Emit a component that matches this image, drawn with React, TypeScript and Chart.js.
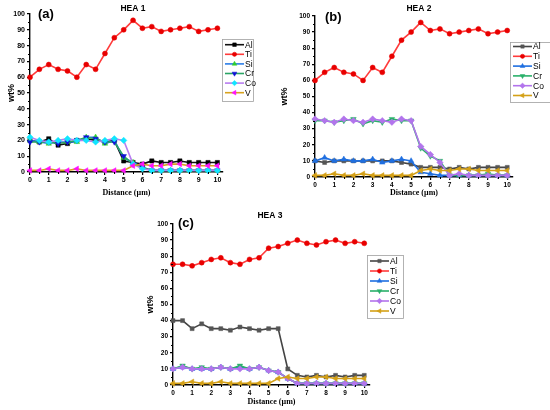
import React, { useRef, useEffect } from 'react';
import { Chart, registerables } from 'chart.js';
import { drawPoint } from 'chart.js/helpers';

Chart.register(...registerables);

// distance along the line scan (µm)
const DISTANCE = [0, 0.5, 1, 1.5, 2, 2.5, 3, 3.5, 4, 4.5, 5, 5.5, 6, 6.5, 7, 7.5, 8, 8.5, 9, 9.5, 10];
const ELEMENTS = ['Al', 'Ti', 'Si', 'Cr', 'Co', 'V'];

// HEA 1 (wt%)
const hea1Al = [20, 19, 21, 17, 18, 20, 21, 20, 19, 20, 7, 6, 5, 7, 6, 6, 7, 6, 6, 6, 6];
const hea1Ti = [60, 65, 68, 65, 64, 60, 68, 65, 75, 85, 90, 96, 91, 92, 89, 90, 91, 92, 89, 90, 91];
const hea1Si = [20, 19, 18, 19, 19, 19, 22, 22, 18, 20, 9, 6, 3, 1, 1, 1, 1, 1, 1, 1, 1];
const hea1Cr = [19, 19, 19, 18, 19, 20, 22, 21, 19, 19, 10, 5, 3, 1, 1, 1, 1, 1, 1, 1, 1];
const hea1Co = [22, 20, 19, 20, 21, 20, 20, 19, 20, 21, 20, 5, 2, 1, 1, 1, 1, 1, 1, 1, 1];
const hea1V = [1, 1, 2, 1, 1, 2, 1, 1, 1, 1, 1, 4, 5, 4, 4, 5, 5, 4, 4, 4, 4];

// HEA 2 (wt%)
const hea2Al = [10, 9, 10, 10, 10, 10, 10, 10, 10, 9, 8, 6, 6, 6, 5, 6, 5, 6, 6, 6, 6];
const hea2Ti = [60, 65, 68, 65, 64, 60, 68, 65, 75, 85, 90, 96, 91, 92, 89, 90, 91, 92, 89, 90, 91];
const hea2Si = [10, 12, 10, 11, 10, 10, 11, 9, 10, 11, 10, 3, 2, 1, 1, 1, 1, 1, 1, 1, 1];
const hea2Cr = [35, 35, 34, 35, 36, 33, 35, 34, 36, 35, 35, 18, 13, 10, 1, 1, 1, 1, 2, 1, 1];
const hea2Co = [36, 35, 34, 36, 35, 34, 36, 35, 34, 36, 35, 19, 14, 9, 1, 2, 1, 1, 1, 1, 1];
const hea2V = [1, 1, 2, 1, 1, 2, 1, 1, 1, 1, 1, 4, 5, 4, 4, 5, 5, 4, 4, 4, 4];

// HEA 3 (wt%)
const hea3Al = [40, 40, 35, 38, 35, 35, 34, 36, 35, 34, 35, 35, 10, 6, 5, 6, 5, 6, 5, 6, 6];
const hea3Ti = [75, 75, 74, 76, 78, 79, 76, 75, 78, 79, 85, 86, 88, 90, 88, 87, 89, 90, 88, 89, 88];
const hea3Si = [10, 11, 10, 10, 10, 11, 10, 11, 10, 11, 9, 8, 4, 1, 1, 1, 1, 1, 1, 1, 1];
const hea3Cr = [10, 12, 10, 11, 10, 11, 10, 12, 10, 11, 9, 8, 4, 1, 1, 1, 1, 1, 1, 1, 1];
const hea3Co = [10, 11, 10, 10, 10, 11, 10, 10, 10, 11, 9, 8, 4, 1, 1, 1, 1, 1, 1, 1, 1];
const hea3V = [1, 1, 2, 1, 1, 2, 1, 1, 1, 1, 1, 4, 5, 4, 4, 5, 5, 4, 4, 4, 4];

const SANS = '"Liberation Sans", Arial, sans-serif';
const SERIF = '"Liberation Serif", "Times New Roman", serif';

interface SeriesStyle {
  line: string;
  marker: string;
  shape: string;
  rotation: number;
  radius: number;
}

// first panel uses mixed line/marker colours, the other two use plain ones
const STYLES_A: SeriesStyle[] = [
  { line: '#111111', marker: '#000000', shape: 'rect', rotation: 0, radius: 3 },
  { line: '#ff3b3b', marker: '#e80000', shape: 'circle', rotation: 0, radius: 2.5 },
  { line: '#2a7de8', marker: '#2fcf2f', shape: 'triangle', rotation: 0, radius: 3.2 },
  { line: '#2aa464', marker: '#1010d8', shape: 'triangle', rotation: 180, radius: 3.2 },
  { line: '#b77cf0', marker: '#10e6ff', shape: 'rectRot', rotation: 0, radius: 3.2 },
  { line: '#d8a21e', marker: '#ff10ff', shape: 'triangle', rotation: -90, radius: 3.2 },
];

const STYLES_B: SeriesStyle[] = [
  { line: '#444444', marker: '#555555', shape: 'rect', rotation: 0, radius: 2.8 },
  { line: '#ff3b3b', marker: '#e80000', shape: 'circle', rotation: 0, radius: 2.5 },
  { line: '#1f6fe0', marker: '#1f6fe0', shape: 'triangle', rotation: 0, radius: 3.2 },
  { line: '#2ab06a', marker: '#2ab06a', shape: 'triangle', rotation: 180, radius: 3.2 },
  { line: '#b274ec', marker: '#b274ec', shape: 'rectRot', rotation: 0, radius: 3.2 },
  { line: '#d4a017', marker: '#d4a017', shape: 'triangle', rotation: -90, radius: 3.2 },
];

interface PanelSpec {
  title: string;
  label: string;
  series: number[][];
  styles: SeriesStyle[];
  box: { left: number; top: number; width: number; height: number };
  padding: { left: number; top: number; right: number; bottom: number };
  yWidth: number;
  xHeight: number;
  tickSize: number;
  labelPos: [number, number];
  titlePos: [number, number];
  legend: { x: number; y: number; w: number; h: number; first: number; step: number };
}

const PANELS: PanelSpec[] = [
  {
    title: 'HEA 1',
    label: '(a)',
    series: [hea1Al, hea1Ti, hea1Si, hea1Cr, hea1Co, hea1V],
    styles: STYLES_A,
    box: { left: 0, top: 0, width: 275, height: 200 },
    padding: { left: 6, top: 14, right: 52, bottom: 2 },
    yWidth: 24,
    xHeight: 26,
    tickSize: 7,
    labelPos: [38, 14],
    titlePos: [133, 9],
    legend: { x: 222, y: 39, w: 31, h: 62, first: 5.7, step: 9.6 },
  },
  {
    title: 'HEA 2',
    label: '(b)',
    series: [hea2Al, hea2Ti, hea2Si, hea2Cr, hea2Co, hea2V],
    styles: STYLES_B,
    box: { left: 275, top: 0, width: 275, height: 200 },
    padding: { left: 4, top: 16, right: 37, bottom: 2 },
    yWidth: 36,
    xHeight: 21,
    tickSize: 6.5,
    labelPos: [50, 17],
    titlePos: [144, 9],
    legend: { x: 235, y: 42, w: 45, h: 60, first: 4.5, step: 9.8 },
  },
  {
    title: 'HEA 3',
    label: '(c)',
    series: [hea3Al, hea3Ti, hea3Si, hea3Cr, hea3Co, hea3V],
    styles: STYLES_B,
    box: { left: 130, top: 205, width: 290, height: 205 },
    padding: { left: 15, top: 19, right: 50, bottom: 3 },
    yWidth: 28,
    xHeight: 22,
    tickSize: 6.5,
    labelPos: [48, 18],
    titlePos: [140, 10.5],
    legend: { x: 237, y: 50, w: 36, h: 63, first: 6, step: 10 },
  },
];

// minor ticks, panel letter, title and the boxed legend
const decorPlugin = {
  id: 'decor',
  afterDraw(chart: any, _args: any, opts: any) {
    const ctx = chart.ctx as CanvasRenderingContext2D;
    const area = chart.chartArea;
    const xs = chart.scales.x;
    const ys = chart.scales.y;
    ctx.save();

    ctx.strokeStyle = '#000';
    ctx.lineWidth = 1;
    ctx.beginPath();
    for (let v = 5; v < 100; v += 10) {
      const py = Math.round(ys.getPixelForValue(v)) + 0.5;
      ctx.moveTo(area.left, py);
      ctx.lineTo(area.left - 2, py);
    }
    for (let v = 0.5; v < 10.3; v += 1) {
      const px = Math.round(xs.getPixelForValue(v)) + 0.5;
      ctx.moveTo(px, area.bottom);
      ctx.lineTo(px, area.bottom + 2);
    }
    ctx.stroke();

    ctx.fillStyle = '#000';
    ctx.textBaseline = 'middle';
    ctx.textAlign = 'left';
    ctx.font = `bold 13px ${SANS}`;
    ctx.fillText(opts.label, opts.labelPos[0], opts.labelPos[1]);
    ctx.textAlign = 'center';
    ctx.font = `bold 8.5px ${SANS}`;
    ctx.fillText(opts.title, opts.titlePos[0], opts.titlePos[1]);

    const lg = opts.legend;
    ctx.strokeStyle = '#a0a0a0';
    ctx.lineWidth = 0.8;
    ctx.strokeRect(lg.x + 0.5, lg.y + 0.5, lg.w, lg.h);
    chart.data.datasets.forEach((ds: any, i: number) => {
      const cy = lg.y + lg.first + i * lg.step;
      ctx.strokeStyle = ds.borderColor;
      ctx.lineWidth = ds.borderWidth;
      ctx.beginPath();
      ctx.moveTo(lg.x + 3, cy);
      ctx.lineTo(lg.x + 22, cy);
      ctx.stroke();
      ctx.fillStyle = ds.pointBackgroundColor;
      ctx.strokeStyle = ds.pointBorderColor;
      ctx.lineWidth = ds.pointBorderWidth;
      drawPoint(ctx, {
        pointStyle: ds.pointStyle,
        rotation: ds.pointRotation,
        radius: ds.pointRadius * 0.85,
        borderWidth: ds.pointBorderWidth,
      } as any, lg.x + 12.5, cy);
      ctx.fillStyle = '#000';
      ctx.textAlign = 'left';
      ctx.font = `8.5px ${SANS}`;
      ctx.fillText(ds.label, lg.x + 23, cy + 0.5);
    });

    ctx.restore();
  },
};

const Panel: React.FC<{ spec: PanelSpec }> = ({ spec }) => {
  const canvasRef = useRef<HTMLCanvasElement>(null);
  const chartRef = useRef<Chart | null>(null);

  useEffect(() => {
    if (!canvasRef.current) return;
    if (chartRef.current) chartRef.current.destroy();

    const tickFont = { family: SANS, size: spec.tickSize, weight: 'bold' as const };

    chartRef.current = new Chart(canvasRef.current, {
      type: 'line',
      data: {
        datasets: ELEMENTS.map((name, i) => {
          const st = spec.styles[i];
          return {
            label: name,
            data: DISTANCE.map((d, j) => ({ x: d, y: spec.series[i][j] })),
            borderColor: st.line,
            borderWidth: 1.6,
            pointStyle: st.shape as any,
            pointRotation: st.rotation,
            pointRadius: st.radius,
            pointBackgroundColor: st.marker,
            pointBorderColor: st.marker,
            pointBorderWidth: 0.5,
            tension: 0,
            clip: false as any,
            order: ELEMENTS.length - i,
          };
        }),
      },
      options: {
        responsive: false,
        maintainAspectRatio: false,
        animation: false,
        layout: { padding: spec.padding, autoPadding: false },
        plugins: {
          legend: { display: false },
          tooltip: { enabled: false },
          decor: {
            label: spec.label,
            title: spec.title,
            labelPos: spec.labelPos,
            titlePos: spec.titlePos,
            legend: spec.legend,
          },
        } as any,
        scales: {
          x: {
            type: 'linear',
            min: 0,
            max: 10.3,
            afterFit: (scale: any) => {
              scale.height = spec.xHeight;
            },
            ticks: { stepSize: 1, includeBounds: false, font: tickFont, color: '#000', padding: 1, maxRotation: 0 },
            grid: { drawOnChartArea: false, drawTicks: true, tickLength: 3, color: '#000', lineWidth: 1.2 },
            border: { display: true, color: '#000', width: 1.4 },
            title: {
              display: true,
              text: 'Distance (µm)',
              color: '#000',
              font: { family: SERIF, size: 8, weight: 'bold' },
              padding: 0,
            },
          },
          y: {
            min: 0,
            max: 100,
            afterFit: (scale: any) => {
              scale.width = spec.yWidth;
            },
            ticks: { stepSize: 10, font: tickFont, color: '#000', padding: 2 },
            grid: { drawOnChartArea: false, drawTicks: true, tickLength: 3, color: '#000', lineWidth: 1.2 },
            border: { display: true, color: '#000', width: 1.4 },
            title: {
              display: true,
              text: 'wt%',
              color: '#000',
              font: { family: SANS, size: 9, weight: 'bold' },
              padding: 0,
            },
          },
        },
      },
      plugins: [decorPlugin],
    });

    return () => {
      if (chartRef.current) {
        chartRef.current.destroy();
        chartRef.current = null;
      }
    };
  }, [spec]);

  return (
    <canvas
      ref={canvasRef}
      width={spec.box.width}
      height={spec.box.height}
      style={{
        position: 'absolute',
        left: spec.box.left,
        top: spec.box.top,
        width: spec.box.width,
        height: spec.box.height,
      }}
    />
  );
};

export default function App() {
  return (
    <div
      style={{
        position: 'absolute',
        left: 0,
        top: 0,
        width: 550,
        height: 410,
        background: '#fff',
        overflow: 'hidden',
      }}
    >
      {PANELS.map((p) => (
        <Panel key={p.title} spec={p} />
      ))}
    </div>
  );
}
